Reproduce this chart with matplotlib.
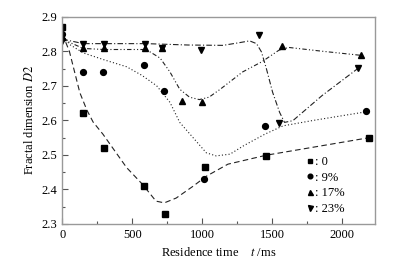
import matplotlib.pyplot as plt

plt.rcParams['font.family'] = ['Liberation Serif', 'DejaVu Serif']
plt.rcParams['mathtext.fontset'] = 'stix'

# measured points
t0 = [0, 146, 296, 585, 732, 1023, 1461, 2192]
d0 = [2.87, 2.62, 2.52, 2.41, 2.33, 2.464, 2.498, 2.548]
t9 = [0, 149, 294, 582, 725, 1011, 1449, 2172]
d9 = [2.85, 2.74, 2.74, 2.76, 2.686, 2.429, 2.583, 2.626]
t17 = [0, 150, 300, 590, 712, 858, 999, 1573, 2139]
d17 = [2.84, 2.81, 2.81, 2.81, 2.808, 2.657, 2.654, 2.815, 2.788]
t23 = [0, 150, 300, 590, 712, 989, 1411, 1548, 2113]
d23 = [2.83, 2.82, 2.82, 2.82, 2.81, 2.803, 2.847, 2.591, 2.751]

# fitted curves
ft0 = [0, 50, 125, 175, 220, 290, 460, 575, 670, 730, 815, 935, 1030, 1185, 1460, 2200]
fd0 = [2.85, 2.80, 2.68, 2.63, 2.595, 2.56, 2.463, 2.414, 2.366, 2.361, 2.375,
       2.409, 2.438, 2.473, 2.499, 2.55]
ft9 = [0, 50, 150, 300, 460, 570, 675, 770, 840, 935, 1030, 1100, 1200, 1300,
       1450, 1580, 1800, 2180]
fd9 = [2.85, 2.82, 2.795, 2.775, 2.755, 2.73, 2.70, 2.652, 2.594, 2.55, 2.506,
       2.497, 2.502, 2.527, 2.56, 2.584, 2.60, 2.625]
ft17 = [0, 150, 300, 600, 700, 770, 840, 910, 980, 1050, 1130, 1290, 1430,
        1550, 1620, 1860, 2140]
fd17 = [2.835, 2.808, 2.805, 2.805, 2.78, 2.74, 2.69, 2.667, 2.66, 2.667, 2.69,
        2.74, 2.77, 2.803, 2.811, 2.80, 2.788]
ft23 = [0, 150, 300, 600, 900, 1150, 1270, 1340, 1390, 1425, 1460, 1505, 1555,
        1590, 1650, 1860, 2115]
fd23 = [2.835, 2.822, 2.822, 2.822, 2.818, 2.817, 2.825, 2.83, 2.822, 2.798,
        2.75, 2.681, 2.623, 2.594, 2.599, 2.672, 2.75]

labels = [': 0', ': 9%', ': 17%', ': 23%']

fig = plt.figure(figsize=(3.93, 2.65), dpi=100)
ax = fig.add_axes([0.158, 0.155, 0.797, 0.782])

lc = '#222222'
ax.plot(ft0, fd0, color=lc, lw=0.8, ls=(0, (5, 3)))
ax.plot(ft9, fd9, color=lc, lw=0.8, ls=(0, (1, 2)))
ax.plot(ft17, fd17, color=lc, lw=0.8, ls=(0, (4, 2, 1, 2, 1, 2)))
ax.plot(ft23, fd23, color=lc, lw=0.8, ls=(0, (5, 2, 1, 2)))

ax.plot(t0, d0, 's', color='black', ms=4.2, ls='none', label=labels[0])
ax.plot(t9, d9, 'o', color='black', ms=4.2, ls='none', label=labels[1])
ax.plot(t17, d17, '^', color='black', ms=4.5, ls='none', label=labels[2])
ax.plot(t23, d23, 'v', color='black', ms=4.5, ls='none', label=labels[3])

ax.set_xlim(-2, 2240)
ax.set_ylim(2.3, 2.9)
ax.set_xticks([0, 500, 1000, 1500, 2000])
ax.set_xticks([250, 750, 1250, 1750], minor=True)
ax.set_yticks([2.3, 2.4, 2.5, 2.6, 2.7, 2.8, 2.9])
ax.set_yticks([2.35, 2.45, 2.55, 2.65, 2.75, 2.85], minor=True)
ax.tick_params(direction='in', labelsize=9, length=4, width=0.8, color='#555555')
ax.tick_params(which='minor', direction='in', length=2, width=0.8, color='#555555')
for s in ax.spines.values():
    s.set_color('#999999')
    s.set_linewidth(1.0)

ax.set_xlabel('Residence time    $\\it{t}$ /ms', fontsize=9)
ax.set_ylabel('Fractal dimension $\\it{D2}$', fontsize=9)

ax.legend(loc='lower right', frameon=False, fontsize=9, handlelength=0.6,
          handletextpad=0.1, labelspacing=0.3, markerscale=0.8,
          borderaxespad=0.3, bbox_to_anchor=(0.93, 0.0))

fig.savefig('out.png', dpi=100)
